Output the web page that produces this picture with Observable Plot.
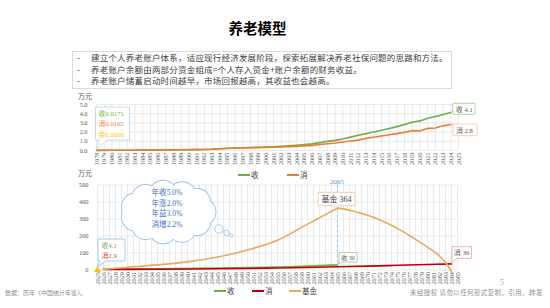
<!DOCTYPE html>
<html><head><meta charset="utf-8">
<script src="https://cdn.jsdelivr.net/npm/d3@7"></script>
<script src="https://cdn.jsdelivr.net/npm/@observablehq/plot@0.6"></script>
<style>
body{margin:0;background:#fff;}
#page{position:relative;width:550px;height:308px;overflow:hidden;background:#fff;font-family:"Liberation Serif","Noto Sans CJK SC",serif;}
.abs{position:absolute;white-space:nowrap;line-height:1;}
svg{display:block;}
</style></head><body><div id="page"></div>
<script>
// ---------- data ----------
const histYears = [1978,1979,1980,1981,1982,1983,1984,1985,1986,1987,1988,1989,1990,1991,1992,1993,1994,1995,1996,1997,1998,1999,2000,2001,2002,2003,2004,2005,2006,2007,2008,2009,2010,2011,2012,2013,2014,2015,2016,2017,2018,2019,2020,2021,2022,2023,2024];
const histIncome = [0.0171,0.0200,0.0247,0.0275,0.0310,0.0350,0.0410,0.0478,0.0540,0.0600,0.0720,0.0810,0.0904,0.1000,0.1150,0.1420,0.1900,0.2363,0.2800,0.3070,0.3250,0.3480,0.3721,0.4070,0.4530,0.5010,0.5660,0.6385,0.7230,0.8580,0.9960,1.0980,1.2520,1.4550,1.6510,1.8311,2.0167,2.1966,2.3821,2.5974,2.8228,3.0733,3.2189,3.5128,3.6883,3.9218,4.1314];
const histConsume = [0.0165,0.0185,0.0236,0.0260,0.0285,0.0315,0.0360,0.0437,0.0497,0.0565,0.0714,0.0788,0.0833,0.0932,0.1116,0.1393,0.1833,0.2236,0.2641,0.2834,0.2972,0.3138,0.3360,0.3560,0.3810,0.4100,0.4500,0.5000,0.5600,0.6500,0.7400,0.8100,0.9200,1.0400,1.1300,1.3220,1.4491,1.5712,1.7111,1.8322,1.9853,2.1559,2.1210,2.4100,2.4538,2.6796,2.8227];
const topTicks = [1978,1979,1980,1981,1982,1983,1984,1985,1986,1987,1988,1989,1990,1991,1992,1993,1994,1995,1996,1997,1998,1999,2000,2001,2002,2003,2004,2005,2006,2007,2008,2009,2010,2011,2012,2013,2014,2015,2016,2017,2018,2019,2020,2021,2022,2023,2024,2025];

const projIncomeYears = [2026,2030,2035,2040,2045,2050,2055,2060,2065];
const projIncome = [4.3,5.2,6.7,8.5,10.9,13.9,17.7,22.6,30];
const projConsumeYears = [2026,2030,2035,2040,2045,2050,2055,2060,2065,2070,2075,2080,2084];
const projConsume = [3.0,3.5,4.4,5.6,7.2,9.2,11.8,15,19,23,27.5,32,36];
const fundYears = [2026,2028,2030,2035,2040,2045,2050,2055,2060,2065,2067,2070,2072,2075,2078,2080,2082,2083,2084];
const fundValues = [3,10,16,30,48,76,118,175,270,364,352,322,296,245,180,135,82,45,-10];
const bottomTicks = [];
for (let y = 2025; y <= 2085; y++) bottomTicks.push(y);

const startIncome = 4.1, startConsume = 2.9, startYear = 2025;
const peakYear = 2065, peakFund = 364;
const assumptions = ["年收5.0%","年涨2.0%","年益3.0%","消增2.2%"];

// ---------- styling ----------
const GREEN = "#70ad47", ORANGE = "#ed7d31", RED = "#c00000", FUND = "#eaa860", GOLD = "#ffc000";
const GRID = "#e4e4e4", TXT = "#595959";
const serif = '"Liberation Serif","Noto Sans CJK SC",serif';
const cjk = '"Noto Sans CJK SC",sans-serif';
const page = document.getElementById("page");

function div(html, left, top, css) {
  const d = document.createElement("div");
  d.className = "abs";
  d.innerHTML = html;
  d.style.left = left + "px"; d.style.top = top + "px";
  Object.assign(d.style, css || {});
  page.appendChild(d);
  return d;
}

// ---------- title & text box ----------
div("养老模型", 0, 20.5, {width:"515px", textAlign:"center", fontSize:"14.5px", fontWeight:"bold", color:"#000", fontFamily:cjk});
div("", 72, 51, {width:"378px", height:"36px", border:"1px solid #d9d9d9"});
const bullets = ["建立个人养老账户体系，适应现行经济发展阶段，探索拓展解决养老社保问题的思路和方法。",
  "养老账户余额由两部分资金组成=个人存入资金+账户余额的财务收益。",
  "养老账户储蓄启动时间越早，市场回报越高，其收益也会越高。"];
bullets.forEach((t,i) => {
  div("-", 77, 53 + i*11.6, {fontSize:"8.5px", color:"#404040", fontFamily:cjk});
  div(t, 91, 53 + i*11.6, {fontSize:"8.5px", color:"#404040", letterSpacing:"0.2px", fontFamily:cjk});
});

// ---------- top chart ----------
const topData = histYears.map((y,i) => ({year:y, income:histIncome[i], consume:histConsume[i]}));
const topTop = 90;
const topChart = Plot.plot({
  width: 550, height: 84,
  marginTop: 14, marginBottom: 24, marginLeft: 96, marginRight: 92,
  style: {fontFamily: serif, fontSize: "6.3px", color: TXT, background: "transparent", overflow: "visible"},
  x: {domain: [1978, 2025], ticks: topTicks, tickFormat: d => String(d), tickRotate: -90, tickSize: 0, tickPadding: 2, label: null},
  y: {domain: [0, 5], ticks: [0,1,2,3,4,5], tickSize: 0, tickPadding: 9, label: null},
  marks: [
    Plot.ruleX(topTicks, {stroke: GRID, strokeWidth: 0.8}),
    Plot.ruleY([0,1,2,3,4,5], {stroke: GRID, strokeWidth: 0.8}),
    Plot.line(topData, {x: "year", y: "income", stroke: GREEN, strokeWidth: 1.6}),
    Plot.line(topData, {x: "year", y: "consume", stroke: ORANGE, strokeWidth: 1.6})
  ]
});
topChart.style.position = "absolute"; topChart.style.left = "0px"; topChart.style.top = topTop + "px";
page.appendChild(topChart);
div("万元", 78, 93, {fontSize:"7px", color:TXT, fontFamily:cjk});

function legend(items, top) {
  items.forEach(([label, color, left]) => {
    div(`<span style="display:inline-block;width:12px;height:2px;background:${color};vertical-align:middle;margin-right:1px"></span><span style="vertical-align:middle">${label}</span>`,
      left, top, {fontSize:"7.5px", color:"#404040", fontFamily:cjk});
  });
}
legend([["收", GREEN, 238], ["消", ORANGE, 287]], 170);

// ---------- bottom chart ----------
const bottomTop = 175;
const incRows = projIncomeYears.map((y,i)=>({year:y, v:projIncome[i]}));
const conRows = projConsumeYears.map((y,i)=>({year:y, v:projConsume[i]}));
const fundRows = fundYears.map((y,i)=>({year:y, v:fundValues[i]}));
const fundUp = fundRows.filter(d => d.year <= peakYear);
const fundDown = fundRows.filter(d => d.year >= peakYear);

const bottomChart = Plot.plot({
  width: 550, height: 113,
  marginTop: 9.5, marginBottom: 18.5, marginLeft: 97, marginRight: 93,
  style: {fontFamily: serif, fontSize: "6.3px", color: TXT, background: "transparent", overflow: "visible"},
  x: {domain: [2025, 2085], ticks: bottomTicks, tickFormat: d => String(d), tickRotate: -90, tickSize: 0, tickPadding: 2, label: null},
  y: {domain: [0, 500], ticks: [0,100,200,300,400,500], tickSize: 0, tickPadding: 9, label: null},
  marks: [
    Plot.ruleX(bottomTicks, {stroke: GRID, strokeWidth: 0.8}),
    Plot.ruleY([0,100,200,300,400,500], {stroke: GRID, strokeWidth: 0.8}),
    Plot.ruleX([peakYear], {stroke: "#a9c8ea", strokeWidth: 1.2, strokeDasharray: "3,2"}),
    Plot.line(incRows, {x: "year", y: "v", stroke: GREEN, strokeWidth: 1.6, curve: "monotone-x"}),
    Plot.line(conRows, {x: "year", y: "v", stroke: RED, strokeWidth: 1.6, curve: "monotone-x"}),
    Plot.line(fundUp, {x: "year", y: "v", stroke: FUND, strokeWidth: 1.6, curve: "monotone-x"}),
    Plot.line(fundDown, {x: "year", y: "v", stroke: FUND, strokeWidth: 1.6, curve: "monotone-x"}),
    Plot.dot([{year: startYear, v: 0}], {x: "year", y: "v", symbol: "triangle", fill: GOLD, r: 2.6, stroke: "none"})
  ]
});
bottomChart.style.position = "absolute"; bottomChart.style.left = "0px"; bottomChart.style.top = bottomTop + "px";
page.appendChild(bottomChart);
div("万元", 78, 170, {fontSize:"7px", color:TXT, fontFamily:cjk});
legend([["收", GREEN, 214], ["消", RED, 252], ["基金", FUND, 289]], 286);

// ---------- footer ----------
div("数据：历年《中国统计年鉴》。", 5, 290, {fontSize:"6px", color:"#8c8c8c", fontFamily:cjk});
div("未经授权 请勿以任何形式复制、引用、转发", 410, 290, {fontSize:"6.4px", color:"#8c8c8c", letterSpacing:"0.5px", fontFamily:cjk});
div("5", 500, 277.5, {fontSize:"8.5px", color:"#b0b0b0"});

// ---------- overlay annotations ----------
const tx = topChart.scale("x"), ty = topChart.scale("y");
const bx = bottomChart.scale("x"), by = bottomChart.scale("y");
const TX = v => tx.apply(v), TY = v => ty.apply(v) + topTop;
const BX = v => bx.apply(v), BY = v => by.apply(v) + bottomTop;

const ov = d3.create("svg").attr("width", 550).attr("height", 308)
  .style("position","absolute").style("left","0px").style("top","0px").style("overflow","visible");
page.appendChild(ov.node());

function callout(o) {
  const {x,y,w,h,a,b,px,py} = o;
  let d;
  if (o.side === "bottom") d = `M${x},${y}H${x+w}V${y+h}H${b}L${px},${py}L${a},${y+h}H${x}Z`;
  else d = `M${x},${y}H${x+w}V${y+h}H${x}V${b}L${px},${py}L${x},${a}Z`;
  ov.append("path").attr("d", d).attr("fill", "#fff").attr("stroke", o.stroke).attr("stroke-width", 0.9);
}
function txt(s, x, y, size, color, anchor) {
  ov.append("text").attr("x", x).attr("y", y).attr("font-size", size).attr("fill", color)
    .attr("font-family", serif).attr("text-anchor", anchor || "start").text(s);
}

// top-left start values
callout({x:95.5, y:107, w:34, h:33, side:"bottom", a:99, b:107, px:TX(1978)+0.5, py:TY(0)-0.5, stroke:"#bdd7ee"});
txt("收" + histIncome[0], 98.5, 115.8, 6.8, GREEN);
txt("消" + histConsume[0], 98.5, 126, 6.8, ORANGE);
txt("余" + (histIncome[0]-histConsume[0]).toFixed(4), 98.5, 136.5, 6.8, GOLD);

// top right end values
const lastI = histIncome.length - 1;
callout({x:453, y:103.3, w:22, h:11, side:"left", a:107, b:111, px:TX(2024)+2, py:TY(histIncome[lastI]), stroke:"#a9d18e"});
txt("收 " + histIncome[lastI].toFixed(1), 456, 111.6, 6.8, TXT);
callout({x:453, y:124, w:24, h:11.7, side:"left", a:126.5, b:130, px:TX(2024)+2, py:TY(histConsume[lastI]), stroke:"#f8cbad"});
txt("消 " + histConsume[lastI].toFixed(1), 456, 132.6, 6.8, TXT);

// bottom start
callout({x:98, y:239, w:27, h:22, side:"bottom", a:100, b:106, px:BX(startYear), py:BY(0)-2.5, stroke:"#9dc3e6"});
txt("收" + startIncome, 101.5, 247.8, 6.8, GREEN);
txt("消" + startConsume, 101.5, 257.8, 6.8, "#e04040");

// 2065 label and peak
txt(String(peakYear), BX(peakYear), 183.5, 7, "#5b9bd5", "middle");
callout({x:318, y:192.3, w:37, h:13.4, side:"bottom", a:333, b:339, px:BX(peakYear), py:BY(peakFund), stroke:"#e6cfa0"});
txt("基金 " + peakFund, 336.5, 202.2, 8, "#404040", "middle");

// 收 30
callout({x:339, y:252.5, w:18, h:9.5, side:"bottom", a:339, b:343, px:BX(peakYear)+0.5, py:BY(projIncome[projIncome.length-1]), stroke:"#a9d18e"});
txt("收 " + projIncome[projIncome.length-1], 348, 259.6, 6, TXT, "middle");

// 消 36
callout({x:452, y:246.7, w:19.5, h:11.6, side:"bottom", a:452, b:457, px:BX(2084), py:BY(projConsume[projConsume.length-1]), stroke:"#f4a6a6"});
txt("消 " + projConsume[projConsume.length-1], 461.7, 255, 7, TXT, "middle");

// cloud
const cx = 168, cy = 212, erx = 34, ery = 18, cr = 13.5;
const bumps = [];
for (let k = 0; k < 11; k++) { const t = k / 11 * 2 * Math.PI; bumps.push([cx + erx*Math.cos(t), cy + ery*Math.sin(t)]); }
const cloudStroke = "#9dc3e6";
const g1 = ov.append("g");
bumps.forEach(([x,y]) => g1.append("circle").attr("cx",x).attr("cy",y).attr("r",cr).attr("fill","#fff").attr("stroke",cloudStroke).attr("stroke-width",1.8));
const g2 = ov.append("g");
bumps.forEach(([x,y]) => g2.append("circle").attr("cx",x).attr("cy",y).attr("r",cr).attr("fill","#fff"));
g2.append("ellipse").attr("cx",cx).attr("cy",cy).attr("rx",erx).attr("ry",ery).attr("fill","#fff");
[[219,229,4.2],[226.5,233,2.8],[231.5,235.5,1.6]].forEach(([x,y,r]) =>
  ov.append("circle").attr("cx",x).attr("cy",y).attr("r",r).attr("fill","#fff").attr("stroke",cloudStroke).attr("stroke-width",0.9));
assumptions.forEach((s,i) => txt(s, 167, 195 + i*10.7, 7.6, "#4472c4", "middle"));
</script>
</body></html>
